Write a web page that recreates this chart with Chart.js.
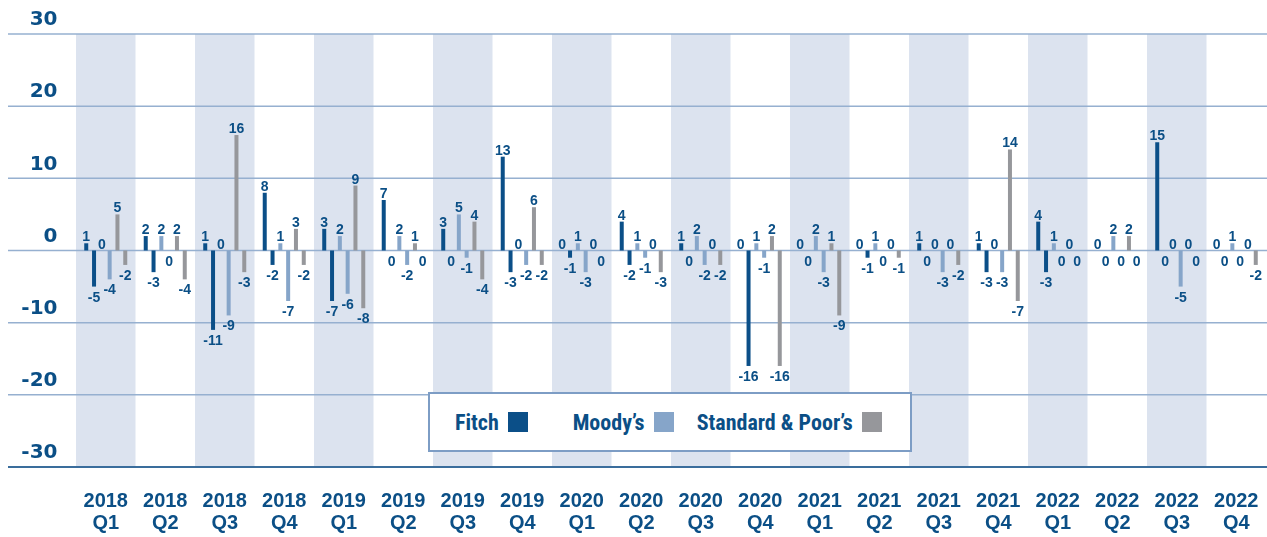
<!DOCTYPE html>
<html>
<head>
<meta charset="utf-8">
<script src="https://cdn.jsdelivr.net/npm/chart.js@4.4.1/dist/chart.umd.min.js"></script>
<style>
  html, body { margin: 0; padding: 0; background: #fff; }
  #wrap { position: relative; width: 1267px; height: 537px; }
  #legend {
    position: absolute; left: 428px; top: 392px; width: 480px; height: 56px;
    border: 2px solid #7d9dc5; background: #fff;
  }
  .item {
    position: absolute; top: 0; height: 56px; display: flex; align-items: center;
    font: bold 22px "Roboto Condensed", "Liberation Sans", sans-serif;
    color: #0b4f86; white-space: nowrap;
  }
  .sw { width: 20px; height: 20px; margin-left: 9px; }
</style>
</head>
<body>
<div id="wrap">
  <canvas id="chart" width="1267" height="537"></canvas>
  <div id="legend"></div>
</div>
<script>
// Quarters on the x axis
const quarters = ['2018 Q1', '2018 Q2', '2018 Q3', '2018 Q4', '2019 Q1', '2019 Q2', '2019 Q3', '2019 Q4',
                  '2020 Q1', '2020 Q2', '2020 Q3', '2020 Q4', '2021 Q1', '2021 Q2', '2021 Q3', '2021 Q4',
                  '2022 Q1', '2022 Q2', '2022 Q3', '2022 Q4'];

// Each agency has an "up" bar and a "down" bar per quarter
const fitchUp    = [1, 2, 1, 8, 3, 7, 3, 13, 0, 4, 1, 0, 0, 0, 1, 1, 4, 0, 15, 0];
const fitchDown  = [-5, -3, -11, -2, -7, 0, 0, -3, -1, -2, 0, -16, 0, -1, 0, -3, -3, 0, 0, 0];
const moodysUp   = [0, 2, 0, 1, 2, 2, 5, 0, 1, 1, 2, 1, 2, 1, 0, 0, 1, 2, 0, 1];
const moodysDown = [-4, 0, -9, -7, -6, -2, -1, -2, -3, -1, -2, -1, -3, 0, -3, -3, 0, 0, -5, 0];
const spUp       = [5, 2, 16, 3, 9, 1, 4, 6, 0, 0, 0, 2, 1, 0, 0, 14, 0, 2, 0, 0];
const spDown     = [-2, -4, -3, -2, -8, 0, -4, -2, 0, -3, -2, -16, -9, -1, -2, -7, 0, 0, 0, -2];

const yTicks = [-30, -20, -10, 0, 10, 20, 30];

const agencies = ['Fitch', 'Moody\u2019s', 'Standard & Poor\u2019s'];
const colors = ['#0b4f88', '#86a5c9', '#96979b'];

const textColor = '#0b4f86';
const bandColor = '#dce3ef';

function ds(label, data, color, side) {
    return { label: label, data: data, backgroundColor: color, borderWidth: 0, side: side };
}

// background bands + horizontal grid lines
const backdrop = {
    id: 'backdrop',
    beforeDatasetsDraw(chart) {
        const { ctx, chartArea, scales } = chart;
        const x = scales.x, y = scales.y;
        const w = x.width / quarters.length;
        ctx.save();
        ctx.fillStyle = bandColor;
        quarters.forEach((q, i) => {
            if (i % 2 === 0) {
                const cx = x.getPixelForValue(i);
                ctx.fillRect(cx - w / 2, chartArea.top, w, chartArea.bottom - chartArea.top);
            }
        });
        yTicks.forEach(v => {
            const py = y.getPixelForValue(v);
            ctx.beginPath();
            ctx.lineWidth = v === yTicks[0] ? 2 : 1.5;
            ctx.strokeStyle = v === yTicks[0] ? '#3a6d9c' : '#96b0d0';
            ctx.moveTo(8, py);
            ctx.lineTo(chart.width, py);
            ctx.stroke();
        });
        ctx.restore();
    }
};

// value labels above / below each bar
const valueLabels = {
    id: 'valueLabels',
    afterDatasetsDraw(chart) {
        const ctx = chart.ctx;
        ctx.save();
        ctx.font = 'bold 14px "Liberation Sans", Arial, sans-serif';
        ctx.fillStyle = textColor;
        ctx.textAlign = 'center';
        ctx.textBaseline = 'alphabetic';
        chart.data.datasets.forEach((d, i) => {
            chart.getDatasetMeta(i).data.forEach((el, j) => {
                const v = d.data[j];
                if (d.side === 'up') {
                    ctx.fillText(String(v), el.x, el.y - 2);
                } else {
                    ctx.fillText(String(v), el.x, el.y + 15);
                }
            });
        });
        ctx.restore();
    }
};

new Chart(document.getElementById('chart'), {
    type: 'bar',
    data: {
        labels: quarters.map(q => q.split(' ')),
        datasets: [
            ds('Fitch up', fitchUp, colors[0], 'up'),
            ds('Fitch down', fitchDown, colors[0], 'down'),
            ds('Moody\u2019s up', moodysUp, colors[1], 'up'),
            ds('Moody\u2019s down', moodysDown, colors[1], 'down'),
            ds('S&P up', spUp, colors[2], 'up'),
            ds('S&P down', spDown, colors[2], 'down')
        ]
    },
    options: {
        responsive: false,
        animation: false,
        layout: { padding: { top: 34, right: 1, left: 0, bottom: 0 } },
        datasets: { bar: { categoryPercentage: 0.787, barPercentage: 0.513 } },
        plugins: { legend: { display: false }, tooltip: { enabled: false } },
        scales: {
            x: {
                grid: { display: false },
                border: { display: false },
                ticks: {
                    color: textColor,
                    padding: 15,
                    maxRotation: 0,
                    autoSkip: false,
                    font: { family: '"Liberation Sans", Arial, sans-serif', size: 20, weight: 'bold', lineHeight: 1.1 }
                },
                afterFit(scale) {
                    scale.height = 70;
                    scale.paddingLeft = 0;
                    scale.paddingRight = 0;
                }
            },
            y: {
                min: -30,
                max: 30,
                grid: { display: false },
                border: { display: false },
                afterBuildTicks(scale) { scale.ticks = yTicks.map(v => ({ value: v })); },
                ticks: {
                    color: textColor,
                    padding: 10.5,
                    labelOffset: -14,
                    font: { family: '"DejaVu Sans", sans-serif', size: 20, weight: 'bold' }
                },
                afterFit(scale) { scale.width = 76; }
            }
        }
    },
    plugins: [backdrop, valueLabels]
});

// legend box
const lefts = [25, 142.7, 266.7];
const legend = document.getElementById('legend');
agencies.forEach((name, i) => {
    const item = document.createElement('div');
    item.className = 'item';
    item.style.left = lefts[i] + 'px';
    const t = document.createElement('span');
    t.textContent = name;
    const sw = document.createElement('span');
    sw.className = 'sw';
    sw.style.background = colors[i];
    item.appendChild(t);
    item.appendChild(sw);
    legend.appendChild(item);
});
</script>
</body>
</html>
